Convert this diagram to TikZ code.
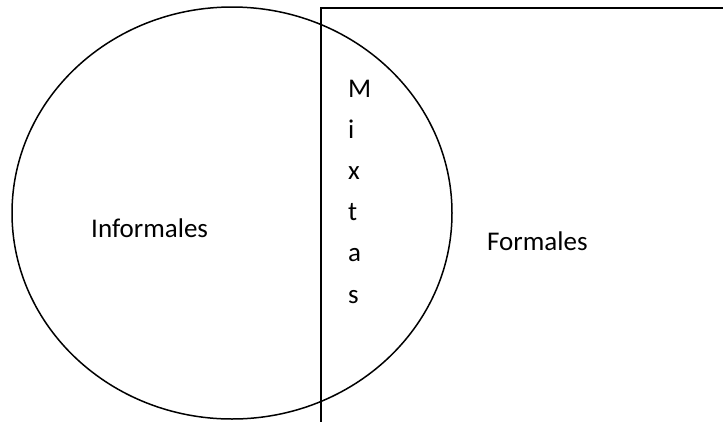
\documentclass[tikz,border=0pt]{standalone}
\usepackage{fontspec}
\setmainfont{Carlito}
\usepackage{tikz}
\usetikzlibrary{positioning}

\tikzset{
  rotulo/.style={inner sep=0pt,anchor=base west,font=\fontsize{27}{30}\selectfont},
  letra/.style={rotulo,text width=30pt,align=left}
}

\begin{document}
\begin{tikzpicture}[x=1pt,y=-1pt]
 \useasboundingbox (0,0) rectangle (723,421);
 % conjunto informal
 \draw[line width=1.5pt] (232,213) ellipse [x radius=220,y radius=206];
 % conjunto formal (abierto a la derecha y abajo)
 \draw[line width=2pt] (321,425) -- (321,8) -- (725,8);
 \node[rotulo] (informales) at (91,237) {Informales};
 \node[rotulo] (formales) at (487,250) {Formales};
 \begin{scope}
  \clip (330,60) rectangle (369,330);
  \node[letra] (mixtas) at (348,97)
   {M\\[11.2pt]i\\[11.2pt]x\\[11.2pt]t\\[11.2pt]a\\[11.2pt]s};
 \end{scope}
\end{tikzpicture}
\end{document}
